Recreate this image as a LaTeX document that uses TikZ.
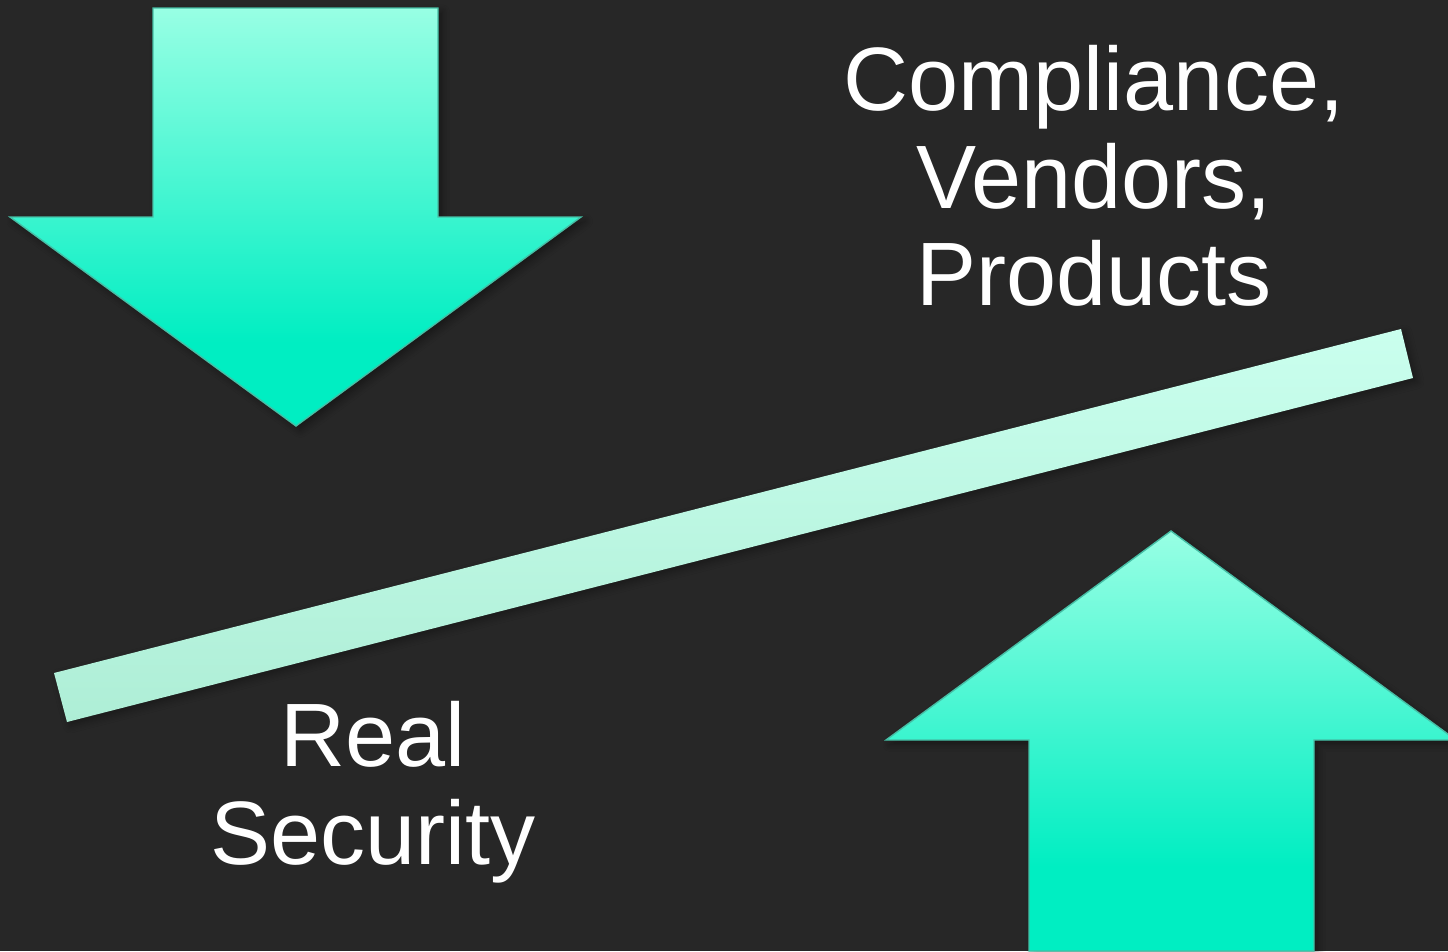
\documentclass[tikz,border=0pt]{standalone}
\usepackage{fontspec}
\setmainfont{Liberation Sans}
\usetikzlibrary{shadows.blur}

\definecolor{bg}{RGB}{39,39,39}
\definecolor{mintlight}{RGB}{152,255,228}
\definecolor{mintdeep}{RGB}{0,238,194}
\definecolor{mintedge}{RGB}{70,190,165}
\definecolor{barlight}{RGB}{202,255,238}
\definecolor{bardark}{RGB}{174,238,214}

% Fill shadings: the path's bounding box maps to 25bp..75bp
\pgfdeclareverticalshading{arrowfill}{100bp}{color(0bp)=(mintdeep); color(35bp)=(mintdeep); color(75bp)=(mintlight); color(100bp)=(mintlight)}
\pgfdeclareverticalshading{barfill}{100bp}{color(0bp)=(bardark); color(25bp)=(bardark); color(75bp)=(barlight); color(100bp)=(barlight)}

\begin{document}
\begin{tikzpicture}[x=0.01cm, y=-0.01cm,
  fatarrow/.style={shading=arrowfill, draw=mintedge, line width=0.4pt,
    blur shadow={shadow xshift=1.2pt, shadow yshift=-1.2pt, shadow blur steps=6, shadow opacity=40}},
  plank/.style={shading=barfill,
    blur shadow={shadow xshift=1pt, shadow yshift=-1pt, shadow blur steps=6, shadow opacity=35}},
  caption/.style={text=white, align=center, inner sep=0pt, anchor=north,
    font=\fontsize{25.6}{27.6}\selectfont}]

  % page and background
  \fill[bg] (0,0) rectangle (1448,951);
  \useasboundingbox (0,0) rectangle (1448,951);
  \clip (0,0) rectangle (1448,951);

  % downward pressure arrow
  \path[fatarrow] (153,8) -- (438,8) -- (438,217) -- (581,217) -- (296,426)
    -- (10,217) -- (153,217) -- cycle;

  % upward pressure arrow
  \path[fatarrow] (1029,951) -- (1029,740) -- (886,740) -- (1171,531)
    -- (1456,740) -- (1314,740) -- (1314,951) -- cycle;

  % tilted balance beam
  \path[plank] (54,673) -- (1401,329) -- (1413,378) -- (67,722) -- cycle;

  % labels
  \node[caption] (cvp) at (1094,45) {Compliance,\\Vendors,\\Products};
  \node[caption] (rs) at (373,701) {Real\\Security};
\end{tikzpicture}
\end{document}
